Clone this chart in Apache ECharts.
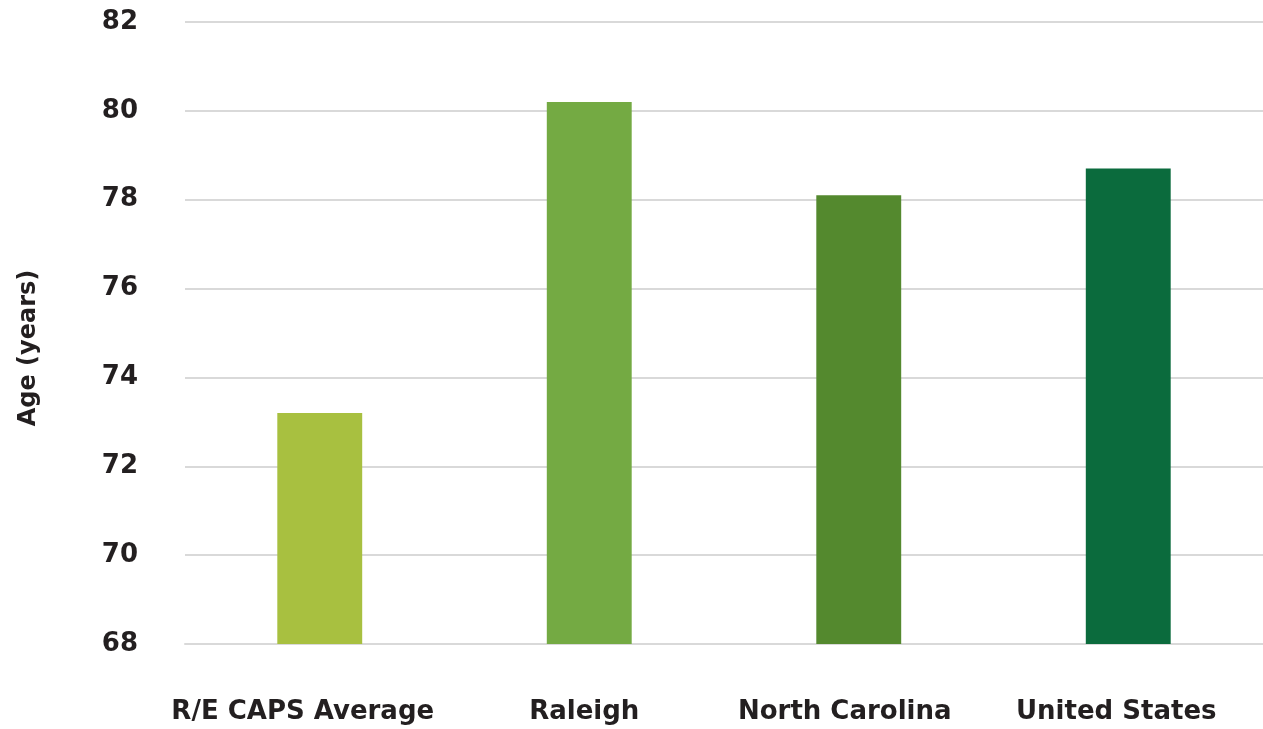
<!DOCTYPE html>
<html>
<head>
<meta charset="utf-8">
<script src="https://cdn.jsdelivr.net/npm/echarts@6/dist/echarts.min.js"></script>
<style>
  html, body { margin: 0; padding: 0; background: #ffffff; }
  #chart { width: 1263px; height: 729px; }
</style>
</head>
<body>
<div id="chart"></div>
<script>
// Life expectancy by area
const categories = ['R/E CAPS Average', 'Raleigh', 'North Carolina', 'United States'];
const ages = [73.2, 80.2, 78.1, 78.7];
const barColors = ['#A8C040', '#74AA43', '#54892E', '#0B6B3D'];
const yTicks = { min: 68, max: 82, interval: 2 };

const textFont = '"DejaVu Sans"';
const textColor = '#231f20';
const textStyle = { fontFamily: textFont, fontWeight: 'bold', fontSize: 26, color: textColor };

// category labels sit slightly left of their bars
const labelShift = [-17, -5, -14, -12];

const chart = echarts.init(document.getElementById('chart'));
chart.setOption({
  backgroundColor: '#ffffff',
  animation: false,
  grid: { left: 185, right: 0, top: 22, bottom: 85, containLabel: false, outerBoundsMode: 'none' },
  xAxis: {
    type: 'category',
    data: categories.map((c, i) => ({
      value: c,
      textStyle: { padding: [0, Math.max(0, -2 * labelShift[i]), 0, Math.max(0, 2 * labelShift[i])] }
    })),
    axisLine: { show: true, lineStyle: { color: '#d9d9d9', width: 2 } },
    axisTick: { show: false },
    axisLabel: Object.assign({ margin: 55, interval: 0 }, textStyle)
  },
  yAxis: {
    type: 'value',
    min: yTicks.min,
    max: yTicks.max,
    interval: yTicks.interval,
    name: 'Age (years)',
    nameLocation: 'middle',
    nameGap: 144,
    nameRotate: 90,
    // padding on the right of the rotated title moves it down the axis
    nameTextStyle: Object.assign({}, textStyle, { fontSize: 24, padding: [0, 30, 0, 0] }),
    axisLine: { show: false },
    axisTick: { show: false },
    splitLine: { lineStyle: { color: '#d9d9d9', width: 2 } },
    axisLabel: Object.assign({ margin: 47 }, textStyle)
  },
  series: [{
    type: 'bar',
    data: ages.map((v, i) => ({ value: v, itemStyle: { color: barColors[i] } })),
    barWidth: '31.5%'
  }]
});
</script>
</body>
</html>
